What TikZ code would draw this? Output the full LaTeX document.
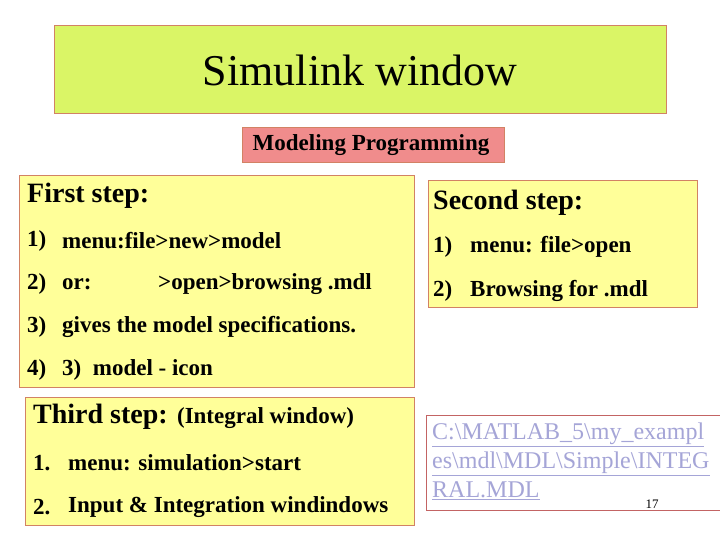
\documentclass[tikz,border=0pt]{standalone}
\usepackage{fontspec}
\setmainfont{Liberation Serif}
\definecolor{titlefill}{RGB}{218,245,102}
\definecolor{pinkfill}{RGB}{240,140,140}
\definecolor{yel}{RGB}{255,255,153}
\definecolor{edge}{RGB}{210,130,100}
\definecolor{linkc}{RGB}{165,165,215}
\definecolor{linkedge}{RGB}{195,100,100}
\tikzset{
  box/.style={draw=edge, line width=0.8pt},
  t/.style={anchor=west, inner sep=0pt, font=\bfseries\fontsize{23}{27}\selectfont},
  head/.style={anchor=west, inner sep=0pt, font=\bfseries\fontsize{28}{32}\selectfont},
  lnk/.style={anchor=west, inner sep=0pt, text=linkc, font=\fontsize{24}{29}\selectfont}
}
\begin{document}
\begin{tikzpicture}[x=1pt,y=-1pt]
\useasboundingbox (0,0) rectangle (720,540);
\fill[white] (0,0) rectangle (720,540);
\draw[box, fill=titlefill] (54,25) rectangle (666,113);
\node (title) at (360,70) {\fontsize{44}{52}\selectfont Simulink window};
\draw[box, fill=pinkfill] (242,127) rectangle (504,162);
\node[font=\bfseries\fontsize{23}{27}\selectfont] (mp) at (371,145) {Modeling Programming};
\draw[box, fill=yel] (19,175) rectangle (414,387);
\draw[box, fill=yel] (428,180) rectangle (697,307);
\draw[box, fill=yel] (25,397) rectangle (414,525);
\draw[draw=linkedge, line width=0.8pt, fill=white] (426,415) rectangle (720,510);
\node[head] (f0) at (27,196) {First step:};
\node[t] (f1a) at (27,241) {1)}; \node[t] (f1) at (62,241) {menu:file>new>model};
\node[t] (f2a) at (27,284) {2)}; \node[t] (f2) at (62,284) {or:}; \node[t] (f2b) at (158,284) {>open>browsing .mdl};
\node[t] (f3a) at (27,327) {3)}; \node[t] (f3) at (62,327) {gives the model specifications.};
\node[t] (f4a) at (27,370) {4)}; \node[t] (f4) at (62,370) {3)\ \ model - icon};
\node[head] (s0) at (433,203) {Second step:};
\node[t] (s1a) at (433,247) {1)}; \node[t] (s1) at (470,247) {menu: file>open};
\node[t] (s2a) at (433,291) {2)}; \node[t] (s2) at (470,291) {Browsing for .mdl};
\node[head] (th0) at (33,417) {Third step: {\fontsize{23}{27}\selectfont(Integral window)}};
\node[t] (th1a) at (33,463) {1.}; \node[t] (th1) at (68,463) {menu: simulation>start};
\node[t] (th2a) at (33,507) {2.}; \node[t] (th2) at (68,507) {Input \& Integration windindows};
\node[lnk] (l1) at (432,435) {\underline{C:\textbackslash MATLAB\_5\textbackslash my\_exampl}};
\node[lnk] (l2) at (432,464) {\underline{es\textbackslash mdl\textbackslash MDL\textbackslash Simple\textbackslash INTEG}};
\node[lnk] (l3) at (432,491) {\underline{RAL.MDL}};
\node[font=\fontsize{13}{15}\selectfont, inner sep=0pt] (pg) at (652,504) {17};
\end{tikzpicture}
\end{document}
